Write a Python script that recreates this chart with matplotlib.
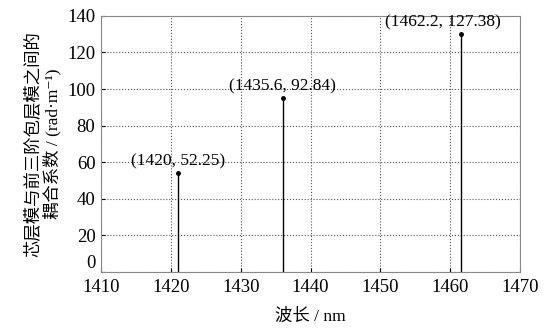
import matplotlib
matplotlib.use("Agg")
import matplotlib.pyplot as plt

plt.rcParams['font.family'] = ['Liberation Serif', 'Noto Sans CJK SC', 'DejaVu Serif']

# данные: положение стебля и подпись
wavelength = [1421.0, 1436.0, 1461.5]
coupling = [54.0, 95.0, 130.0]
labels = ["(1420, 52.25)", "(1435.6, 92.84)", "(1462.2, 127.38)"]
label_dx = [0, 0, -2.5]

fig = plt.figure(figsize=(5.55, 3.31), dpi=100)
ax = fig.add_axes([0.182, 0.178, 0.755, 0.774])

ml, sl, bl = ax.stem(wavelength, coupling, linefmt='k-', markerfmt='ko', basefmt=' ')
ml.set_markersize(2.5)
sl.set_linewidth(1.0)

for x, y, t, dx in zip(wavelength, coupling, labels, label_dx):
    ax.annotate(t, (x + dx, y), xytext=(0, 3), textcoords='offset points',
                ha='center', va='bottom', fontsize=12.5)

ax.set_xlim(1410, 1470)
ax.set_ylim(0, 140)
ax.set_xticks(range(1410, 1471, 10))
ax.set_yticks(range(0, 141, 20))
ax.grid(True, color='#555555', linestyle=':', linewidth=0.8)
ax.tick_params(direction='in', labelsize=13.5, length=3)
ax.tick_params(axis='x', pad=5)
ax.tick_params(axis='y', pad=4)
# "0" чуть выше, чтобы не налезал на 1410
ax.get_yticklabels()[0].set_verticalalignment('bottom')
for s in ax.spines.values():
    s.set_color('#888888')

ax.set_xlabel("波长 / nm", fontsize=12.5, labelpad=9)
ax.set_ylabel("芯层模与前三阶包层模之间的\n耦合系数 / (rad·m⁻¹)", fontsize=12.5,
              linespacing=1.15, labelpad=4)

fig.savefig("out.png", dpi=100)
